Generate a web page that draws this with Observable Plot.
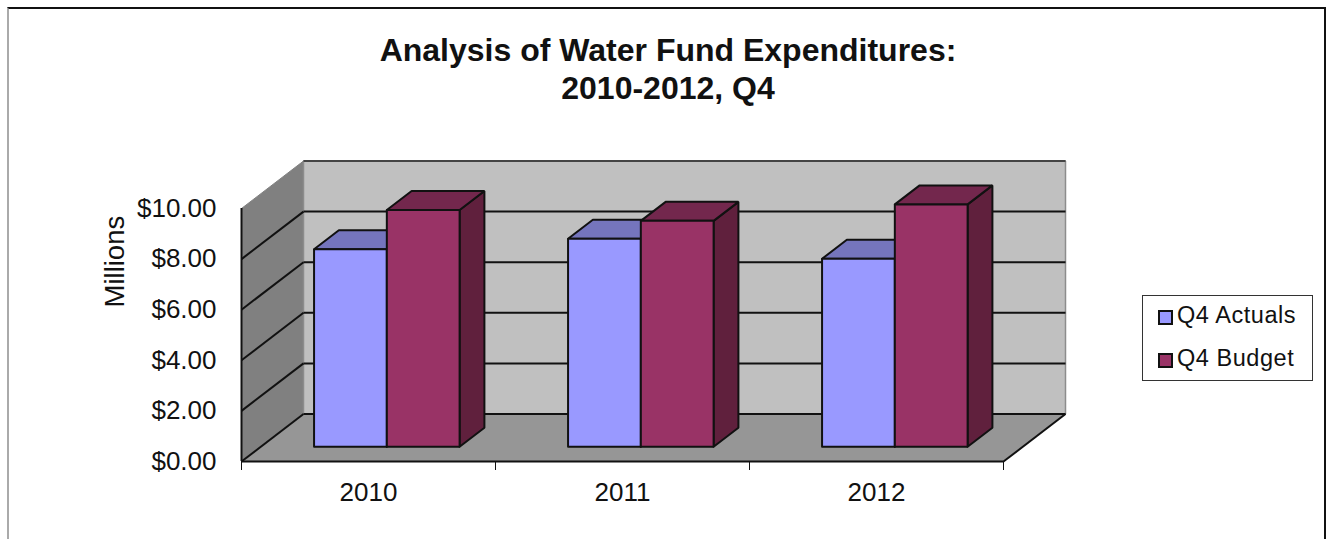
<!DOCTYPE html>
<html>
<head>
<meta charset="utf-8">
<script src="https://cdn.jsdelivr.net/npm/d3@7"></script>
<script src="https://cdn.jsdelivr.net/npm/@observablehq/plot@0.6"></script>
<style>
  html, body { margin: 0; padding: 0; background: #fff; overflow: hidden; }
  #page { position: relative; width: 1333px; height: 539px; overflow: hidden; font-family: "Liberation Sans", Arial, sans-serif; color: #111; }
  #page svg { position: absolute; left: 0; top: 0; background: transparent; }
  #border { position: absolute; left: 7px; top: 7px; width: 1319px; height: 600px; border-top: 2px solid #111; border-right: 2px solid #111; border-left: 2px solid #aaa; box-sizing: border-box; }
  #title { position: absolute; left: 0; top: 32px; width: 1336px; text-align: center; font-weight: bold; font-size: 32px; line-height: 37.5px; }
  #legend { position: absolute; left: 1142px; top: 295px; width: 171px; height: 86px; border: 1.5px solid #333; box-sizing: border-box; background: #fff; font-size: 23.5px; }
  .row { position: absolute; left: 15px; height: 27px; line-height: 27px; white-space: nowrap; letter-spacing: 0.55px; }
  .row i { display: inline-block; width: 11px; height: 11px; border: 2px solid #111; margin-right: 4px; vertical-align: -2px; }
</style>
</head>
<body>
<div id="page">
  <div id="border"></div>
  <div id="title">Analysis of Water Fund Expenditures:<br>2010-2012, Q4</div>
  <div id="legend"></div>
</div>
<script>
const years = ["2010", "2011", "2012"];
const q4Actuals = [7.81, 8.22, 7.43];
const q4Budget = [9.36, 8.93, 9.58];
const yTicks = [0, 2, 4, 6, 8, 10];
const seriesNames = ["Q4 Actuals", "Q4 Budget"];

const colors = {
  actual: { front: "#9999ff", top: "#7575bd", side: "#6e6eb0" },
  budget: { front: "#993366", top: "#73274d", side: "#60203d" }
};

// oblique projection of the 3D chart box: depth 0 = front plane, depth 1 = back wall
const depthX = 62 / 254, depthY = 47.5 / 25.3;
const P = (cat, val, d = 0) => ({ x: cat + d * depthX, y: val + d * depthY });
const poly = (pts, fill, stroke, strokeWidth = 2) =>
  Plot.line([...pts, pts[0]], { x: "x", y: "y", fill, stroke, strokeWidth, strokeLinejoin: "miter" });

const barFront = 0.31, barBack = 0.71, barOffset = 0.21, barW = 0.2865;

function box(cat, val, c) {
  const x0 = cat, x1 = cat + barW;
  return [
    poly([P(x1, 0, barFront), P(x1, 0, barBack), P(x1, val, barBack), P(x1, val, barFront)], c.side, "#111"),
    poly([P(x0, val, barFront), P(x1, val, barFront), P(x1, val, barBack), P(x0, val, barBack)], c.top, "#111"),
    poly([P(x0, 0, barFront), P(x1, 0, barFront), P(x1, val, barFront), P(x0, val, barFront)], c.front, "#111")
  ];
}

const gridBack = yTicks.slice(1, -1).concat(0);
const marks = [
  // walls and floor
  poly([P(0, 0, 0), P(0, 0, 1), P(0, 10, 1), P(0, 10, 0)], "#808080", "#808080", 1),
  poly([P(0, 0, 1), P(3, 0, 1), P(3, 10, 1), P(0, 10, 1)], "#c0c0c0", "#8c8c8c", 1.5),
  poly([P(0, 0, 0), P(3, 0, 0), P(3, 0, 1), P(0, 0, 1)], "#969696", "#969696", 1),
  // gridlines on back wall and left wall
  Plot.link(gridBack, { x1: () => P(0, 0, 1).x, x2: () => P(3, 0, 1).x, y1: d => P(0, d, 1).y, y2: d => P(0, d, 1).y, stroke: "#111", strokeWidth: 2 }),
  Plot.link(gridBack, { x1: () => P(0, 0, 0).x, x2: () => P(0, 0, 1).x, y1: d => P(0, d, 0).y, y2: d => P(0, d, 1).y, stroke: "#111", strokeWidth: 2 }),
  // top edge of back wall and right floor edge
  Plot.link([10], { x1: () => P(0, 0, 1).x, x2: () => P(3, 0, 1).x, y1: d => P(0, d, 1).y, y2: d => P(0, d, 1).y, stroke: "#444", strokeWidth: 2 }),
  Plot.link([0], { x1: () => P(3, 0, 0).x, x2: () => P(3, 0, 1).x, y1: d => P(0, d, 0).y, y2: d => P(0, d, 1).y, stroke: "#111", strokeWidth: 2 }),
  // bars
  ...years.flatMap((_, i) => [
    ...box(i + barOffset, q4Actuals[i], colors.actual),
    ...box(i + barOffset + barW, q4Budget[i], colors.budget)
  ]),
  // axis lines
  Plot.ruleX([0], { y1: 0, y2: 10, stroke: "#111", strokeWidth: 2 }),
  Plot.ruleY([0], { x1: 0, x2: 3, stroke: "#111", strokeWidth: 2 }),
  Plot.axisY({
    ticks: yTicks, tickSize: 0, tickPadding: 25, fontSize: 26, label: null,
    tickFormat: d => "$" + d.toFixed(2), color: "#111"
  }),
  Plot.axisX({ ticks: [0, 1, 2, 3], tickSize: 9, tickFormat: () => "", label: null, stroke: "#111" }),
  Plot.axisX({
    ticks: years.map((_, i) => i + 0.5), tickSize: 0, tickPadding: 21.5, fontSize: 26, label: null,
    tickFormat: d => years[Math.floor(d)], color: "#111"
  }),
  Plot.text(["Millions"], { x: -0.497, y: 7.9, text: d => d, rotate: -90, fontSize: 27.5, fill: "#111" })
];

const chart = Plot.plot({
  width: 1333,
  height: 539,
  marginLeft: 241,
  marginRight: 330,
  marginTop: 208,
  marginBottom: 78,
  x: { domain: [0, 3], range: [241, 1003] },
  y: { domain: [0, 10], range: [461, 208] },
  style: { fontFamily: "Liberation Sans, Arial, sans-serif", background: "transparent", overflow: "visible" },
  marks
});
const page = document.getElementById("page");
page.insertBefore(chart, document.getElementById("title"));

const legend = document.getElementById("legend");
seriesNames.forEach((name, i) => {
  const row = document.createElement("div");
  row.className = "row";
  row.style.top = (5.5 + i * 43.5) + "px";
  const sw = document.createElement("i");
  sw.style.background = i === 0 ? colors.actual.front : colors.budget.front;
  row.append(sw, name);
  legend.append(row);
});
</script>
</body>
</html>
